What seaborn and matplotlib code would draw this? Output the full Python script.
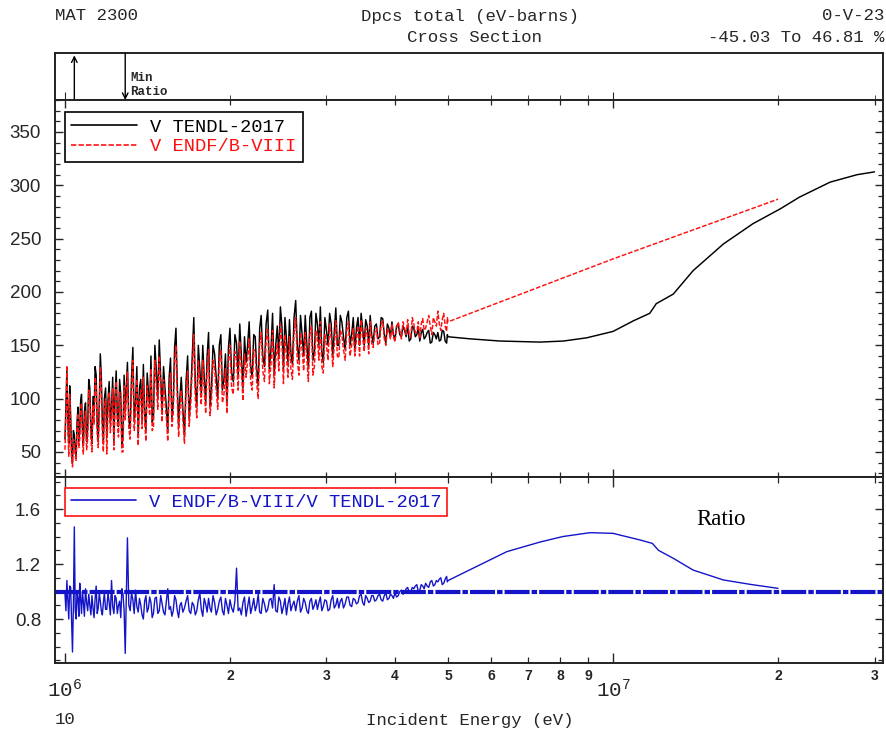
import numpy as np
import pandas as pd
import matplotlib
matplotlib.use("Agg")
import matplotlib.pyplot as plt
from matplotlib.ticker import FixedLocator, MultipleLocator, FuncFormatter
from matplotlib.lines import Line2D
import seaborn as sns

# ---------------- data (energies in MeV) ----------------
energy_res = [1.000, 1.008, 1.016, 1.024, 1.032, 1.040, 1.048, 1.056, 1.064, 1.072, 1.080,
              1.090, 1.100, 1.110, 1.120, 1.130, 1.140, 1.150, 1.160, 1.170, 1.180,
              1.192, 1.204, 1.216, 1.228, 1.240, 1.252, 1.264, 1.276, 1.288, 1.300,
              1.315, 1.330, 1.345, 1.360, 1.375, 1.390, 1.405, 1.420, 1.435, 1.450,
              1.468, 1.486, 1.504, 1.522, 1.540, 1.558, 1.576, 1.594, 1.612, 1.630,
              1.652, 1.674, 1.696, 1.718, 1.740, 1.762, 1.784, 1.806, 1.828, 1.850,
              1.875, 1.900, 1.925, 1.950, 1.975, 2.000,
              2.028, 2.056, 2.084, 2.112, 2.140, 2.168, 2.196, 2.224, 2.252, 2.280,
              2.312, 2.344, 2.376, 2.408, 2.440, 2.472, 2.504, 2.536, 2.568, 2.600,
              2.636, 2.672, 2.708, 2.744, 2.780, 2.816, 2.852, 2.888, 2.924, 2.960,
              3.000, 3.040, 3.080, 3.120, 3.160, 3.200,
              3.245, 3.290, 3.335, 3.380, 3.425, 3.470, 3.515, 3.560, 3.605, 3.650,
              3.700, 3.750, 3.800, 3.850, 3.900, 3.950, 4.000,
              4.055, 4.110, 4.165, 4.220, 4.275, 4.330, 4.385, 4.440, 4.495,
              4.550, 4.610, 4.670, 4.730, 4.790, 4.850, 4.910, 4.970,
              5.000]

# values on the grid points
tendl_res = [62, 126, 58, 84, 40, 66, 44, 92, 70, 104, 56,
             96, 72, 110, 58, 84, 122, 62, 142, 78, 100,
             64, 116, 92, 60, 126, 74, 104, 66, 88, 134,
             72, 148, 96, 64, 118, 132, 70, 106, 140, 82,
             126, 155, 88, 110, 68, 138, 96, 166, 74, 120,
             64, 140, 104, 176, 92, 128, 150, 96, 162, 108,
             142, 100, 160, 118, 96, 166,
             116, 152, 170, 110, 134, 172, 120, 158, 112, 178,
             130, 183, 146, 122, 168, 186, 128, 156, 174, 132,
             192, 136, 160, 178, 128, 182, 144, 170, 186, 134,
             164, 180, 140, 185, 150, 172,
             146, 182, 160, 144, 176, 180, 150, 168, 178, 152,
             170, 158, 175, 152, 166, 172, 155,
             170, 158, 164, 168, 156, 166, 160, 154, 165,
             158, 164, 153, 160, 162, 155, 163, 152,
             158]

endf_res = [52, 131, 46, 78, 36, 60, 42, 86, 62, 96, 48,
            88, 62, 104, 50, 76, 112, 54, 130, 68, 92,
            48, 106, 84, 52, 116, 64, 94, 50, 80, 125,
            62, 136, 86, 56, 108, 120, 60, 96, 128, 72,
            112, 140, 78, 98, 60, 124, 86, 150, 64, 108,
            58, 126, 94, 160, 82, 114, 136, 86, 146, 96,
            128, 90, 146, 104, 86, 150,
            104, 138, 154, 98, 120, 156, 108, 144, 100, 162,
            116, 166, 132, 110, 152, 170, 114, 140, 158, 118,
            176, 122, 146, 162, 116, 168, 130, 156, 172, 124,
            150, 170, 130, 173, 138, 160,
            136, 172, 150, 140, 168, 174, 144, 160, 172, 148,
            166, 152, 173, 150, 162, 170, 153,
            172, 156, 166, 174, 158, 170, 162, 156, 175,
            166, 178, 160, 172, 182, 164, 180, 163,
            172]

ratio_res = [0.98, 1.08, 0.80, 1.03, 0.56, 1.47, 0.80, 0.95, 1.06, 0.84, 0.93,
             1.02, 0.86, 0.90, 0.97, 0.81, 1.04, 0.88, 0.93, 0.83, 0.99,
             0.87, 0.92, 1.08, 0.84, 0.95, 0.90, 0.81, 0.98, 0.55, 1.39,
             0.86, 0.94, 1.01, 0.85, 0.90, 0.80, 0.97, 0.88, 0.92, 0.84,
             0.96, 0.86, 0.91, 0.83, 1.02, 0.89, 0.86, 0.94, 0.81, 0.92,
             0.88, 0.97, 0.84, 0.90, 0.86, 0.99, 0.82, 0.91, 0.95, 0.85,
             0.92, 0.87, 0.96, 0.83, 0.90, 0.94,
             0.85, 1.17, 0.88, 0.92, 0.82, 0.96, 0.89, 0.86, 0.98, 0.84,
             0.91, 0.87, 0.95, 1.05, 0.85, 0.93, 0.89, 0.83, 0.96, 0.90,
             0.86, 0.97, 0.88, 0.92, 0.84, 0.95, 0.90, 0.87, 0.96, 0.89,
             0.93, 0.87, 0.97, 0.90, 0.88, 0.95,
             0.91, 0.96, 0.89, 0.94, 0.92, 0.98, 0.90, 0.95, 0.93, 0.97,
             0.94, 0.98, 0.93, 0.99, 0.95, 0.97, 0.99,
             0.97, 1.01, 0.99, 1.03, 1.00, 1.02, 1.05, 1.01, 1.04,
             1.06, 1.03, 1.08, 1.05, 1.07, 1.10, 1.06, 1.11,
             1.08]

# values read between consecutive grid points (one per interval)
tendl_mid = [95, 80, 112, 50, 70, 52, 78, 60, 98, 72, 88,
             60, 118, 70, 102, 130, 74, 96, 120, 58, 110,
             98, 76, 120, 102, 84, 118, 58, 122, 112, 80,
             120, 78, 130, 110, 80, 86, 124, 92, 78, 150,
             100, 120, 130, 92, 120, 82, 148, 112, 102, 90,
             116, 82, 140, 112, 150, 104, 120, 140, 92, 150,
             120, 150, 108, 142, 148, 124,
             160, 120, 140, 158, 150, 130, 160, 128, 166, 140,
             170, 128, 180, 150, 140, 168, 176, 134, 142, 176,
             150, 178, 140, 152, 176, 136, 180, 150, 144, 176,
             150, 170, 162, 150, 178, 158,
             176, 150, 176, 166, 150, 166, 174, 150, 160, 168,
             156, 176, 160, 170, 158, 160, 168,
             160, 168, 158, 154, 168, 158, 166, 162, 156,
             162, 152, 162, 156, 154, 164, 154, 160]

endf_mid = [88, 72, 104, 44, 62, 46, 72, 54, 90, 64, 80,
            52, 108, 62, 94, 120, 66, 88, 110, 50, 100,
            88, 68, 110, 92, 76, 106, 50, 112, 100, 72,
            108, 70, 118, 98, 72, 78, 112, 84, 70, 136,
            90, 108, 118, 82, 108, 74, 134, 100, 92, 80,
            104, 74, 128, 100, 136, 94, 108, 128, 84, 136,
            108, 136, 96, 128, 134, 110,
            144, 108, 126, 142, 136, 116, 146, 114, 150, 126,
            154, 114, 164, 136, 126, 152, 160, 120, 128, 160,
            136, 162, 126, 138, 160, 122, 164, 136, 130, 160,
            136, 156, 150, 140, 164, 146,
            164, 140, 166, 156, 140, 158, 166, 142, 152, 162,
            150, 170, 156, 166, 156, 158, 166,
            164, 172, 160, 160, 176, 162, 172, 170, 164,
            172, 168, 176, 168, 170, 174, 168, 176]

ratio_mid = [0.86, 0.94, 1.04, 0.78, 0.90, 0.86, 1.00, 0.82, 0.94, 1.00, 0.82,
             0.92, 0.98, 0.83, 0.88, 0.95, 0.84, 0.99, 0.86, 0.92, 0.87,
             0.99, 0.83, 0.89, 0.97, 0.84, 0.93, 1.02, 0.86, 0.95, 0.90,
             0.99, 0.84, 0.89, 0.95, 0.83, 0.93, 0.85, 0.96, 0.81, 0.95,
             0.84, 0.97, 0.85, 0.93, 0.87, 0.82, 0.97, 0.86, 0.90, 0.85,
             0.93, 0.86, 0.92, 0.83, 0.94, 0.87, 0.95, 0.85, 0.88, 0.97,
             0.83, 0.93, 0.86, 0.95, 0.84, 0.88,
             0.93, 0.86, 0.83, 0.96, 0.89, 0.84, 0.95, 0.90, 0.85, 0.95,
             0.85, 0.94, 0.88, 0.86, 0.96, 0.84, 0.95, 0.91, 0.86, 0.93,
             0.93, 0.85, 0.95, 0.86, 0.93, 0.87, 0.94, 0.92, 0.86, 0.94,
             0.86, 0.94, 0.88, 0.95, 0.93, 0.88,
             0.96, 0.90, 0.95, 0.91, 0.97, 0.92, 0.97, 0.92, 0.97, 0.93,
             0.97, 0.94, 0.97, 0.94, 0.98, 0.95, 0.96,
             1.00, 0.98, 1.02, 0.99, 1.03, 1.04, 1.00, 1.05, 1.02,
             1.04, 1.07, 1.04, 1.08, 1.09, 1.05, 1.09, 1.07]

tendl_hi_E = [5.5, 6.22, 7.36, 8.12, 8.95, 10.0, 10.9, 11.67, 11.99, 12.88,
              14.0, 15.9, 18.0, 20.2, 21.9, 24.9, 27.9, 30.0]
tendl_hi = [156, 154, 153, 154, 157, 163, 173, 180, 189, 198,
            220, 245, 264, 278, 289, 303, 310, 312.6]

endf_hi_E = [10.0, 20.0]
endf_hi = [231, 287]

ratio_hi_E = [6.4, 7.36, 8.1, 9.08, 10.0, 11.2, 11.8, 12.1, 12.9, 14.0, 15.9, 17.8, 20.0]
ratio_hi = [1.29, 1.36, 1.40, 1.428, 1.423, 1.375, 1.35, 1.30, 1.24, 1.156, 1.084, 1.052, 1.023]

label_tendl = "V TENDL-2017"
label_endf = "V ENDF/B-VIII"
label_ratio = "V ENDF/B-VIII/V TENDL-2017"

MeV = 1.0e6


def interleave(grid_vals, mid_vals):
    out = np.empty(2 * len(grid_vals) - 1)
    out[0::2] = grid_vals
    out[1::2] = mid_vals
    return out


E_grid = np.array(energy_res)
E_fine = interleave(E_grid, np.sqrt(E_grid[:-1] * E_grid[1:]))

df_tendl = pd.DataFrame({"E": np.concatenate([E_fine, tendl_hi_E]) * MeV,
                         "v": np.concatenate([interleave(tendl_res, tendl_mid), tendl_hi])})
df_endf = pd.DataFrame({"E": np.concatenate([E_fine, endf_hi_E]) * MeV,
                        "v": np.concatenate([interleave(endf_res, endf_mid), endf_hi])})
ratio_fine = interleave(ratio_res, ratio_mid)
df_ratio = pd.DataFrame({"E": np.concatenate([E_fine, ratio_hi_E]) * MeV,
                         "v": np.concatenate([ratio_fine, ratio_hi])})

# ---------------- style ----------------
sns.set_style("ticks")
plt.rcParams["font.family"] = ["Liberation Sans", "DejaVu Sans"]
MONO = ["Liberation Mono", "DejaVu Sans Mono"]
BLUE = "#1414c8"
RED = "#ff1010"

fig = plt.figure(figsize=(8.86, 7.35), dpi=100)
W, H = 886.0, 735.0
L = 55 / W
AW = (883 - 55) / W
ax_top = fig.add_axes([L, 1 - 100 / H, AW, 47 / H])
ax_main = fig.add_axes([L, 1 - 477 / H, AW, 377 / H])
ax_rat = fig.add_axes([L, 1 - 663 / H, AW, 186 / H])

xlim = (0.9589e6, 3.109e7)
for ax in (ax_top, ax_main, ax_rat):
    ax.set_xscale("log")
    ax.set_xlim(*xlim)
    for s in ax.spines.values():
        s.set_linewidth(1.4)
        s.set_color("#222222")
    ax.xaxis.set_major_locator(FixedLocator([1e6, 1e7]))
    ax.xaxis.set_minor_locator(FixedLocator([2e6, 3e6, 4e6, 5e6, 6e6, 7e6, 8e6, 9e6, 2e7, 3e7]))

# ---------------- main panel ----------------
sns.lineplot(data=df_tendl, x="E", y="v", ax=ax_main, color="black", lw=1.05,
             sort=False, estimator=None)
sns.lineplot(data=df_endf, x="E", y="v", ax=ax_main, color=RED, lw=1.05,
             sort=False, estimator=None, linestyle="--")
ax_main.lines[-1].set_dashes((3.2, 1.3))
ax_main.set_ylim(26.5, 380)
ax_main.yaxis.set_major_locator(MultipleLocator(50))
ax_main.yaxis.set_minor_locator(MultipleLocator(10))
ax_main.set_xlabel("")
ax_main.set_ylabel("")
ax_main.tick_params(which="both", direction="in", top=True, right=True,
                    labelbottom=False, labelsize=13.5, pad=10)
ax_main.tick_params(which="major", length=6, width=1.0)
ax_main.tick_params(which="minor", length=3.5, width=0.9)

h1 = Line2D([], [], color="black", lw=1.2)
h2 = Line2D([], [], color=RED, lw=1.2, dashes=(3.2, 1.3))
leg = ax_main.legend([h1, h2], [label_tendl, label_endf], loc="upper left",
                     bbox_to_anchor=(0.012, 0.968), borderaxespad=0, frameon=True,
                     fancybox=False, edgecolor="black", framealpha=1,
                     prop={"family": MONO, "size": 13.5}, labelcolor=["black", RED],
                     handlelength=3.5, handletextpad=0.7, labelspacing=0.12,
                     borderpad=0.35)
leg.get_frame().set_linewidth(1.2)

# ---------------- ratio panel ----------------
ax_rat.axhline(1.0, color=BLUE, lw=3.0, solid_capstyle="butt",
               dashes=(6, 0.5, 1.3, 0.5), zorder=1)
sns.lineplot(data=df_ratio, x="E", y="v", ax=ax_rat, color=BLUE, lw=1.0,
             sort=False, estimator=None, zorder=2)
ax_rat.set_ylim(0.48, 1.833)
ax_rat.yaxis.set_major_locator(MultipleLocator(0.4))
ax_rat.yaxis.set_minor_locator(MultipleLocator(0.1))
ax_rat.yaxis.set_major_formatter(FuncFormatter(lambda v, p: f"{v:.1f}"))
ax_rat.set_xlabel("")
ax_rat.set_ylabel("")
ax_rat.tick_params(which="both", direction="in", top=True, right=True)
ax_rat.tick_params(axis="y", which="major", length=6, width=1.0, labelsize=13.5, pad=10)
ax_rat.tick_params(axis="y", which="minor", length=3.5, width=0.9)
ax_rat.tick_params(axis="x", which="major", length=7, width=1.0, pad=11, labelsize=15)
ax_rat.tick_params(axis="x", which="minor", length=4, width=0.9, pad=4, labelsize=10)
ax_rat.xaxis.set_major_formatter(
    FuncFormatter(lambda v, p: r"$\mathregular{10^{%d}}$" % int(round(np.log10(v)))))
ax_rat.xaxis.set_minor_formatter(
    FuncFormatter(lambda v, p: "%d" % int(round(v / 10 ** np.floor(np.log10(v) + 1e-9)))))
for lab in ax_rat.get_xticklabels(which="major"):
    lab.set_family(MONO)
for lab in ax_rat.get_xticklabels(which="minor"):
    lab.set_fontweight("bold")

hr = Line2D([], [], color=BLUE, lw=1.2)
leg2 = ax_rat.legend([hr], [label_ratio], loc="upper left",
                     bbox_to_anchor=(0.012, 0.941), borderaxespad=0, frameon=True,
                     fancybox=False, edgecolor=RED, framealpha=1,
                     prop={"family": MONO, "size": 13.5}, labelcolor=[BLUE],
                     handlelength=3.5, handletextpad=0.7, borderpad=0.3)
leg2.get_frame().set_linewidth(1.2)
ax_rat.text(0.804, 0.77, "Ratio", transform=ax_rat.transAxes, ha="center", va="center",
            family=["Liberation Serif", "DejaVu Serif"], fontsize=16.5, color="black")

# ---------------- header (min / max ratio) panel ----------------
ax_top.set_ylim(0, 1)
ax_top.set_yticks([])
ax_top.tick_params(axis="x", which="both", direction="in", labelbottom=False, top=False)
ax_top.tick_params(axis="x", which="major", length=6)
ax_top.tick_params(axis="x", which="minor", length=3.5)
e_max = df_ratio["E"].iloc[int(np.argmax(ratio_fine))]
e_min = df_ratio["E"].iloc[int(np.argmin(ratio_fine))]
ax_top.annotate("", xy=(e_max, 0.95), xytext=(e_max, 0.0),
                arrowprops=dict(arrowstyle="->", lw=1.0, color="black",
                                shrinkA=0, shrinkB=0, mutation_scale=10))
ax_top.annotate("", xy=(e_min, 0.0), xytext=(e_min, 1.0),
                arrowprops=dict(arrowstyle="->", lw=1.0, color="black",
                                shrinkA=0, shrinkB=0, mutation_scale=10))
ax_top.text(e_min * 1.02, 0.47, "Min", family=MONO, fontsize=9, fontweight="bold",
            va="center", ha="left")
ax_top.text(e_min * 1.02, 0.17, "Ratio", family=MONO, fontsize=9, fontweight="bold",
            va="center", ha="left")

# ---------------- page texts ----------------
fig.text(55 / W, 1 - 16 / H, "MAT 2300", family=MONO, fontsize=12.5, va="center", ha="left")
fig.text(470 / W, 1 - 16 / H, "Dpcs total (eV-barns)", family=MONO, fontsize=12.5,
         va="center", ha="center")
fig.text(474 / W, 1 - 38 / H, "Cross Section", family=MONO, fontsize=12.5,
         va="center", ha="center")
fig.text(884 / W, 1 - 16 / H, "0-V-23", family=MONO, fontsize=12.5, va="center", ha="right")
fig.text(884 / W, 1 - 38 / H, "-45.03 To 46.81 %", family=MONO, fontsize=12.5,
         va="center", ha="right")
fig.text(55 / W, 1 - 720 / H, "10", family=MONO, fontsize=12.5, va="center", ha="left")
fig.text(470 / W, 1 - 720 / H, "Incident Energy (eV)", family=MONO, fontsize=12.5,
         va="center", ha="center")

fig.savefig("out.png", dpi=100)
